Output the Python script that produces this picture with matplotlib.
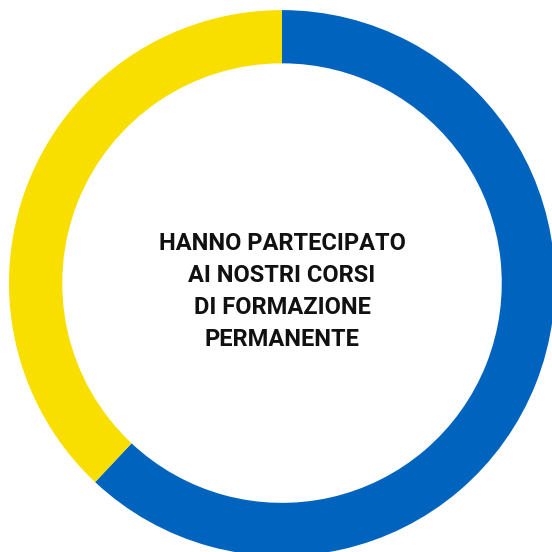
import matplotlib
matplotlib.use("Agg")
import matplotlib.pyplot as plt

labels = ["Partecipanti", "Altri"]
values = [62, 38]
colors = ["#0063BE", "#F8DF00"]
center_text = "HANNO PARTECIPATO\nAI NOSTRI CORSI\nDI FORMAZIONE\nPERMANENTE"

fig = plt.figure(figsize=(5.52, 5.52), dpi=100)
ax = fig.add_axes([0, 0, 1, 1])

ax.pie(values, colors=colors, startangle=90, counterclock=False,
       radius=1, wedgeprops=dict(width=0.195, edgecolor="none"))

ax.text(0, -0.03, center_text, ha="center", va="center",
        fontsize=17, fontweight="bold", family="Roboto",
        color="#111111", linespacing=1.5)

# the ring is cropped slightly at the right and bottom edges
ax.set_xlim(-1.033, 0.989)
ax.set_ylim(-0.985, 1.037)
ax.set_aspect("equal")
ax.axis("off")

fig.savefig("out.png", dpi=100)
